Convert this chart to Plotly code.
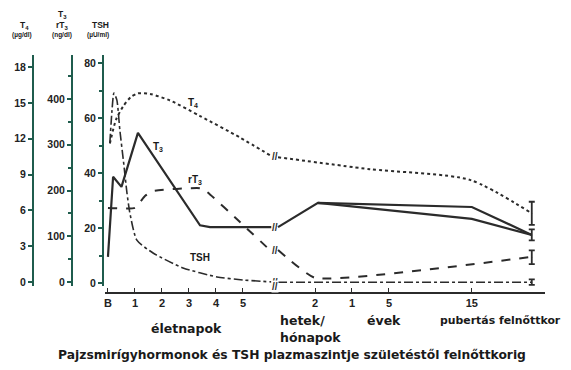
import plotly.graph_objects as go

# ---------------- data ----------------
# x positions on a broken age axis (days 0-5, then weeks/months, years, puberty, adult)
tick_pos = [0, 1, 2, 3, 4, 5, 7.67, 9.04, 10.41, 13.48]
tick_text = ["B", "1", "2", "3", "4", "5", "2", "1", "5", "15"]

# T4 (µg/dl)
t4_x = [0.07, 0.30, 0.56, 0.85, 1.11, 1.56, 2.30, 3.41, 4.89, 6.05, None, 6.30, 9.70, 13.41, 15.70]
t4_y = [11.6, 13.6, 14.7, 15.5, 15.8, 15.75, 15.2, 13.9, 12.1, 10.55, None, 10.45, 9.45, 8.55, 5.75]

# T3 (ng/dl)
t3_x = [0, 0.11, 0.19, 0.50, 1.11, 3.41, 3.78, 6.05, None, 6.30, 7.78, 13.48, 15.70]
t3_y = [55, 146, 230, 208, 326, 124, 120, 120, None, 120, 173, 164, 103]
t3b_x = [7.78, 13.48, 15.70]
t3b_y = [173, 138, 103]

# rT3 (ng/dl)
rt3_x = [0, 1.0, 1.37, 1.67, 3.41, 3.67, 4.89, 6.05, None, 6.30, 7.67, 15.70]
rt3_y = [162, 162, 188, 199, 205, 197, 131, 67, None, 70, 9, 55]

# TSH (µU/ml)
tsh_x = [0.07, 0.15, 0.22, 0.33, 0.44, 0.59, 0.70, 0.81, 1.07, 1.67, 2.78, 4.04, 5.0, 6.05, None, 6.30, 15.70]
tsh_y = [50.9, 62.9, 69.1, 66.5, 55.6, 42.9, 33.0, 25.5, 15.6, 10.9, 5.5, 2.2, 1.1, 0.4, None, 0.3, 0.3]

# adult ranges (value, ± error)
adult_x = 15.70
t4_adult, t4_err = 5.75, 0.97
t3_adult, t3_err = 103, 12
rt3_adult, rt3_err = 54, 15
tsh_adult, tsh_err = 0.3, 1.0

t4_ticks = [0, 3, 6, 9, 12, 15, 18]
t3_ticks = [0, 100, 200, 300, 400]
tsh_ticks = [0, 20, 40, 60, 80]

# ---------------- style ----------------
INK = "#2b2b2b"
AX = "#1f5c4d"
FONT = "Liberation Sans"
WIDE = "DejaVu Sans"

fig = go.Figure()

fig.add_trace(go.Scatter(x=t4_x, y=t4_y, yaxis="y2", mode="lines",
                         line=dict(color=INK, width=2, dash="dot", shape="spline", smoothing=0.7),
                         showlegend=False))
fig.add_trace(go.Scatter(x=t3_x, y=t3_y, yaxis="y3", mode="lines",
                         line=dict(color=INK, width=2.2), showlegend=False))
fig.add_trace(go.Scatter(x=t3b_x, y=t3b_y, yaxis="y3", mode="lines",
                         line=dict(color=INK, width=2.2), showlegend=False))
fig.add_trace(go.Scatter(x=rt3_x, y=rt3_y, yaxis="y3", mode="lines",
                         line=dict(color=INK, width=2, dash="dash", shape="spline", smoothing=0.4),
                         showlegend=False))
fig.add_trace(go.Scatter(x=tsh_x, y=tsh_y, yaxis="y", mode="lines",
                         line=dict(color=INK, width=1.6, dash="dashdot", shape="spline", smoothing=0.6),
                         showlegend=False))

# adult error bars
for val, err, ax in [(t4_adult, t4_err, "y2"), (t3_adult, t3_err, "y3"),
                     (rt3_adult, rt3_err, "y3"), (tsh_adult, tsh_err, "y")]:
    fig.add_trace(go.Scatter(x=[adult_x], y=[val], yaxis=ax, mode="markers",
                             marker=dict(size=1, color=INK),
                             error_y=dict(type="constant", value=err, color=INK, thickness=1.8, width=3),
                             showlegend=False))

# ---------------- layout ----------------
# the page puts the figure 8px in from the top-left corner of the window
OFF = 8
W, H = 571 - OFF, 370 - OFF
L, R, T, B = 30 - OFF, 12, 55 - OFF, 77
pw = W - L - R
ph = H - T - B


def px_x(p):
    return (p - OFF - L) / pw


def px_y(p):
    return (H - B - (p - OFF)) / ph


ydom = [px_y(286), 1]

tickfont = dict(family=FONT, size=10.5, color="#222", weight="bold")

common_y = dict(domain=ydom, showgrid=False, zeroline=False, showline=True, automargin=False,
                linecolor=AX, linewidth=2, ticks="outside", ticklen=4, tickwidth=1.5,
                tickcolor=AX, tickfont=tickfont, anchor="free", tickmode="array")

fig.update_layout(
    width=W, height=H,
    margin=dict(l=L, r=R, t=T, b=B, autoexpand=False),
    plot_bgcolor="white", paper_bgcolor="white",
    xaxis=dict(domain=[px_x(105), px_x(545)], range=[-0.11, 16.19], automargin=False,
               anchor="free", position=0,
               showgrid=False, zeroline=False, showline=True, linecolor=INK, linewidth=1.5,
               ticks="inside", ticklen=4, tickwidth=1.2, tickcolor=INK,
               tickmode="array", tickvals=tick_pos, ticktext=tick_text,
               tickfont=dict(family=FONT, size=11, color="#222", weight="bold")),
    yaxis=dict(common_y, position=px_x(103), range=[-3 / 2.75, -3 / 2.75 + 231 / 2.75],
               tickvals=tsh_ticks,
               minor=dict(dtick=10, tick0=0, ticks="outside", ticklen=3, tickcolor=AX, showgrid=False)),
    yaxis2=dict(common_y, overlaying="y", position=px_x(33),
                range=[-4 / 11.94, -4 / 11.94 + 231 / 11.94], tickvals=t4_ticks),
    yaxis3=dict(common_y, overlaying="y", position=px_x(72),
                range=[-4 / 0.4575, -4 / 0.4575 + 231 / 0.4575], tickvals=t3_ticks,
                minor=dict(dtick=50, tick0=0, ticks="outside", ticklen=3, tickcolor=AX, showgrid=False)),
    title=dict(text="Pajzsmirígyhormonok és TSH plazmaszintje születéstől felnőttkorig",
               x=px_x(292), xanchor="center", xref="paper", y=(H - (355 - OFF)) / H, yanchor="middle",
               yref="container", automargin=False,
               font=dict(family=WIDE, size=12.3, color="#1a1a1a", weight="bold")),
)

ann = []
lab = dict(family=FONT, color="#1a1a1a", weight="bold")

# curve labels
ann += [
    dict(x=3.15, y=65.5, xref="x", yref="y", text="T<sub>4</sub>", showarrow=False, font=dict(lab, size=10)),
    dict(x=1.85, y=49.5, xref="x", yref="y", text="T<sub>3</sub>", showarrow=False, font=dict(lab, size=10)),
    dict(x=3.22, y=37.5, xref="x", yref="y", text="rT<sub>3</sub>", showarrow=False, font=dict(lab, size=10)),
    dict(x=3.41, y=9.1, xref="x", yref="y", text="TSH", showarrow=False, font=dict(lab, size=10)),
]

# axis headers
hdr = [("T<sub>4</sub>", 24, 25, 8.5), ("(µg/dl)", 22, 35, 6.5),
       ("T<sub>3</sub>", 62, 15, 8.5), ("rT<sub>3</sub>", 62, 25, 8.5), ("(ng/dl)", 62, 35, 6.5),
       ("TSH", 100, 25, 8.5), ("(µU/ml)", 98, 35, 6.5)]
for t, x, y, s in hdr:
    ann.append(dict(x=px_x(x), y=px_y(y), xref="paper", yref="paper", text=t, showarrow=False,
                    font=dict(lab, size=s), xanchor="center", yanchor="middle"))

# period labels
per = [("életnapok", 186, 328, "center", 12.5), ("hetek/", 279, 320, "left", 12.5),
       ("hónapok", 279, 337, "left", 12.5), ("évek", 384, 320, "center", 12.5),
       ("pubertás felnőttkor", 439, 320, "left", 10.9)]
for t, x, y, a, s in per:
    ann.append(dict(x=px_x(x), y=px_y(y), xref="paper", yref="paper", text=t, showarrow=False,
                    font=dict(lab, family=WIDE, size=s), xanchor=a, yanchor="middle", borderpad=0))

# break marks
brk = dict(family=FONT, size=10, color=INK, weight="bold")
ann += [
    dict(x=6.17, y=10.5, xref="x", yref="y2", text="//", showarrow=False, font=brk),
    dict(x=6.17, y=120, xref="x", yref="y3", text="//", showarrow=False, font=brk),
    dict(x=6.17, y=68, xref="x", yref="y3", text="//", showarrow=False, font=brk),
    dict(x=6.17, y=0.3, xref="x", yref="y", text="//", showarrow=False, font=brk),
    dict(x=6.17, y=0, xref="x", yref="paper", text="//", showarrow=False, font=brk, bgcolor="white",
         borderpad=0),
]
fig.update_layout(annotations=ann)

fig.write_html("out.html")
